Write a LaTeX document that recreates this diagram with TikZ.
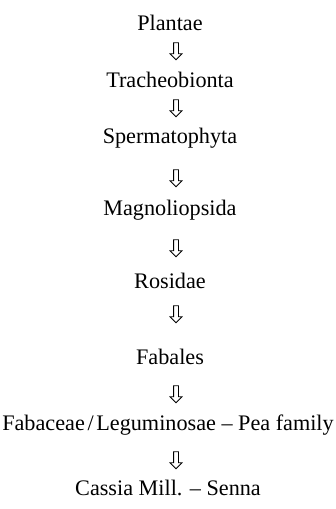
\documentclass[tikz,border=0pt]{standalone}
\usepackage{fontspec}
\setmainfont{Liberation Serif}
\usetikzlibrary{shapes.arrows, calc}

\begin{document}
\begin{tikzpicture}[
    x=0.5pt, y=-0.5pt, % one unit is one pixel of the reference, y runs down
    taxon/.style={font=\fontsize{11.1}{13}\selectfont, inner sep=0pt}, % Style for the rank names
    downarrow/.style={single arrow, draw, line width=0.4pt, shape border rotate=270,
        inner sep=1pt, single arrow head extend=1.75pt, minimum height=8.5pt} % Hollow arrow
]

    % Frame of the picture
    \useasboundingbox (0,0) rectangle (336,509);

    % Ranks, top to bottom
    \node[taxon] (plantae) at (170,23) {Plantae};
    \node[taxon] (trach) at (170,80) {Tracheobionta};
    \node[taxon] (sperm) at (170,138) {Spermatophyta};
    \node[taxon] (magno) at (170,210) {Magnoliopsida};
    \node[taxon] (rosid) at (170,281) {Rosidae};
    \node[taxon] (fabal) at (170,357) {Fabales};
    \node[taxon] (fabac) at (168,425) {Fabaceae\kern.12em/\kern.12em Leguminosae -- Pea family};
    \node[taxon] (cassia) at (168,488) {Cassia Mill. -- Senna};

    % Arrows between the ranks
    \node[downarrow] (a1) at (176,50) {};
    \node[downarrow] (a2) at (176,107) {};
    \node[downarrow] (a3) at (176,177) {};
    \node[downarrow] (a4) at (176,247) {};
    \node[downarrow] (a5) at (176,313) {};
    \node[downarrow] (a6) at (176,393) {};
    \node[downarrow] (a7) at (176,459) {};

\end{tikzpicture}
\end{document}
